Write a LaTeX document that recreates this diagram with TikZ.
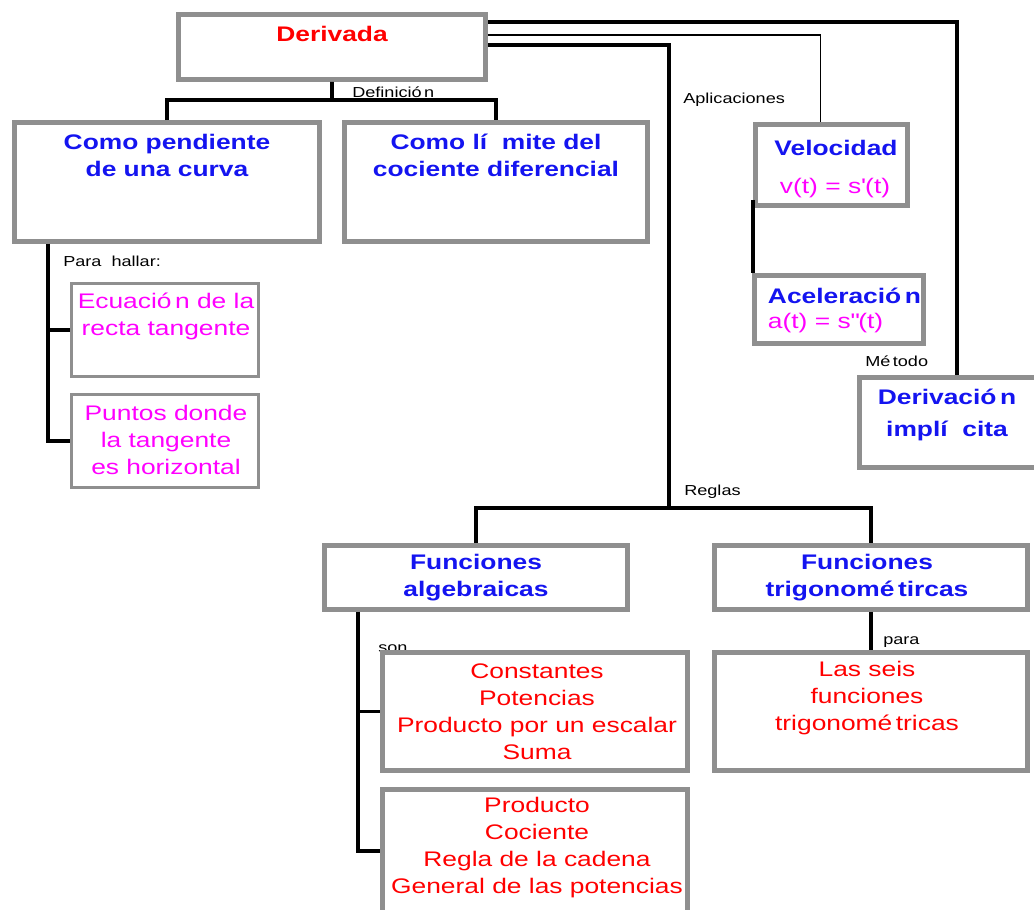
\documentclass[tikz,border=0pt]{standalone}
\usepackage{fontspec}
\setmainfont{Liberation Sans}[FakeStretch=1.25]
\usepackage{xcolor}
\usetikzlibrary{fit,calc}
\definecolor{cajagris}{HTML}{8F8F8F}
\definecolor{azul}{HTML}{1414F0}
\definecolor{rojo}{HTML}{FF0000}
\definecolor{rosa}{HTML}{FF00FF}

\begin{document}
\begin{tikzpicture}[x=0.025cm,y=-0.025cm,
  caja/.style={draw=cajagris,line width=3.5pt,fill=white,inner sep=0pt},
  cajafina/.style={draw=cajagris,line width=2.2pt,fill=white,inner sep=0pt},
  grueso/.style={line width=2.5pt},
  fino/.style={line width=1.4pt},
  etiq/.style={anchor=west,inner sep=0pt,font=\fontsize{10.3}{12}\selectfont},
  titulo/.style={align=center,text=azul,font=\fontsize{15}{19.2}\selectfont\bfseries},
  lista/.style={align=center,text=rojo,font=\fontsize{15}{19.2}\selectfont},
  formula/.style={align=center,text=rosa,font=\fontsize{15}{19.2}\selectfont}]

\useasboundingbox (0,0) rectangle (1034,909);

\node[etiq] (tdef) at (352,92) {Definició\,n};
\node[etiq] (tapl) at (683,100) {Aplicaciones};
\node[etiq] (tpara) at (63,261) {Para\ \ hallar:};
\node[etiq] (tmet) at (865,361) {Mé\,todo};
\node[etiq] (treg) at (684,492) {Reglas};
\node[etiq] (tson) at (378,649) {son};
\node[etiq] (tparb) at (883,642) {para};

\node[caja, fit={(178.5,14.5) (485.5,79.5)}] (der) {};
\node[caja, fit={(14.5,122.5) (319.5,241.5)}] (pend) {};
\node[caja, fit={(344.5,122.5) (647.5,241.5)}] (lim) {};
\node[cajafina, fit={(71.5,283.5) (258.5,376.5)}] (ecu) {};
\node[cajafina, fit={(71.5,394.5) (258.5,487.5)}] (pun) {};
\node[caja, fit={(755.5,124.5) (907.5,205.5)}] (vel) {};
\node[caja, fit={(754.5,275.5) (923.5,343.5)}] (acel) {};
\node[caja, fit={(859.5,377.5) (1054.5,467.5)}] (impl) {};
\node[caja, fit={(324.5,545.5) (627.5,609.5)}] (alg) {};
\node[caja, fit={(714.5,545.5) (1027.5,609.5)}] (trig) {};
\node[caja, fit={(382.5,652.5) (687.5,770.5)}] (cons) {};
\node[caja, fit={(382.5,789.5) (687.5,912.5)}] (prod) {};
\node[caja, fit={(714.5,652.5) (1027.5,770.5)}] (seis) {};

\node[text=rojo,font=\fontsize{15}{19.2}\selectfont\bfseries] (der-t) at (332,34) {Derivada};
\node[titulo] (pend-t) at (167,155) {Como pendiente\\de una curva};
\node[titulo] (lim-t) at (496,155) {Como lí\ \ mite del\\cociente diferencial};
\node[formula] (ecu-t) at (166,316) {Ecuació\,n de la\\recta tangente};
\node[formula] (pun-t) at (166,440) {Puntos donde\\la tangente\\es horizontal};
\node[titulo] (vel-t) at (836,148) {Velocidad};
\node[formula] (vel-f) at (835,188) {v(t) = s\textquotesingle(t)};
\node[titulo,anchor=west,align=left] (acel-t) at (763,296) {Aceleració\,n};
\node[formula,anchor=west,align=left] (acel-f) at (763,323) {a(t) = s\textquotedbl(t)};
\node[titulo] (impl-t) at (947,415) {Derivació\,n\\[3pt]implí\ \ cita};
\node[titulo] (alg-t) at (476,578) {Funciones\\algebraicas};
\node[titulo] (trig-t) at (867,578) {Funciones\\trigonomé\,tircas};
\node[lista] (cons-t) at (537,712) {Constantes\\Potencias\\Producto por un escalar\\Suma};
\node[lista] (prod-t) at (537,848) {Producto\\Cociente\\Regla de la cadena\\General de las potencias};
\node[lista] (seis-t) at (867,698) {Las seis\\funciones\\trigonomé\,tricas};

\coordinate (def) at (332,100);
\coordinate (reg) at (669,508);

\draw[grueso] (der.south) -- (def);
\draw[grueso] (pend.north) |- (def) -| (lim.north);
\draw[grueso] (der.east |- 0,22) -| (impl.north);
\draw[fino] (der.east |- 0,35) -| ($(vel.north)+(-11,0)$);
\draw[grueso] (der.east |- 0,45) -| (reg);
\draw[grueso] (alg.north) |- (reg) -| (trig.north);
\draw[grueso] ($(vel.south west)+(0,-8)$) -- (vel.south west |- acel.north);
\draw[grueso] (pend.south -| 48,0) |- (ecu.west);
\draw[grueso] (pend.south -| 48,0) |- (pun.west);
\draw[grueso] (alg.south -| 358,0) |- (cons.west);
\draw[grueso] (alg.south -| 358,0) |- (prod.west);
\draw[grueso] (trig.south) -- (seis.north);
\end{tikzpicture}
\end{document}
